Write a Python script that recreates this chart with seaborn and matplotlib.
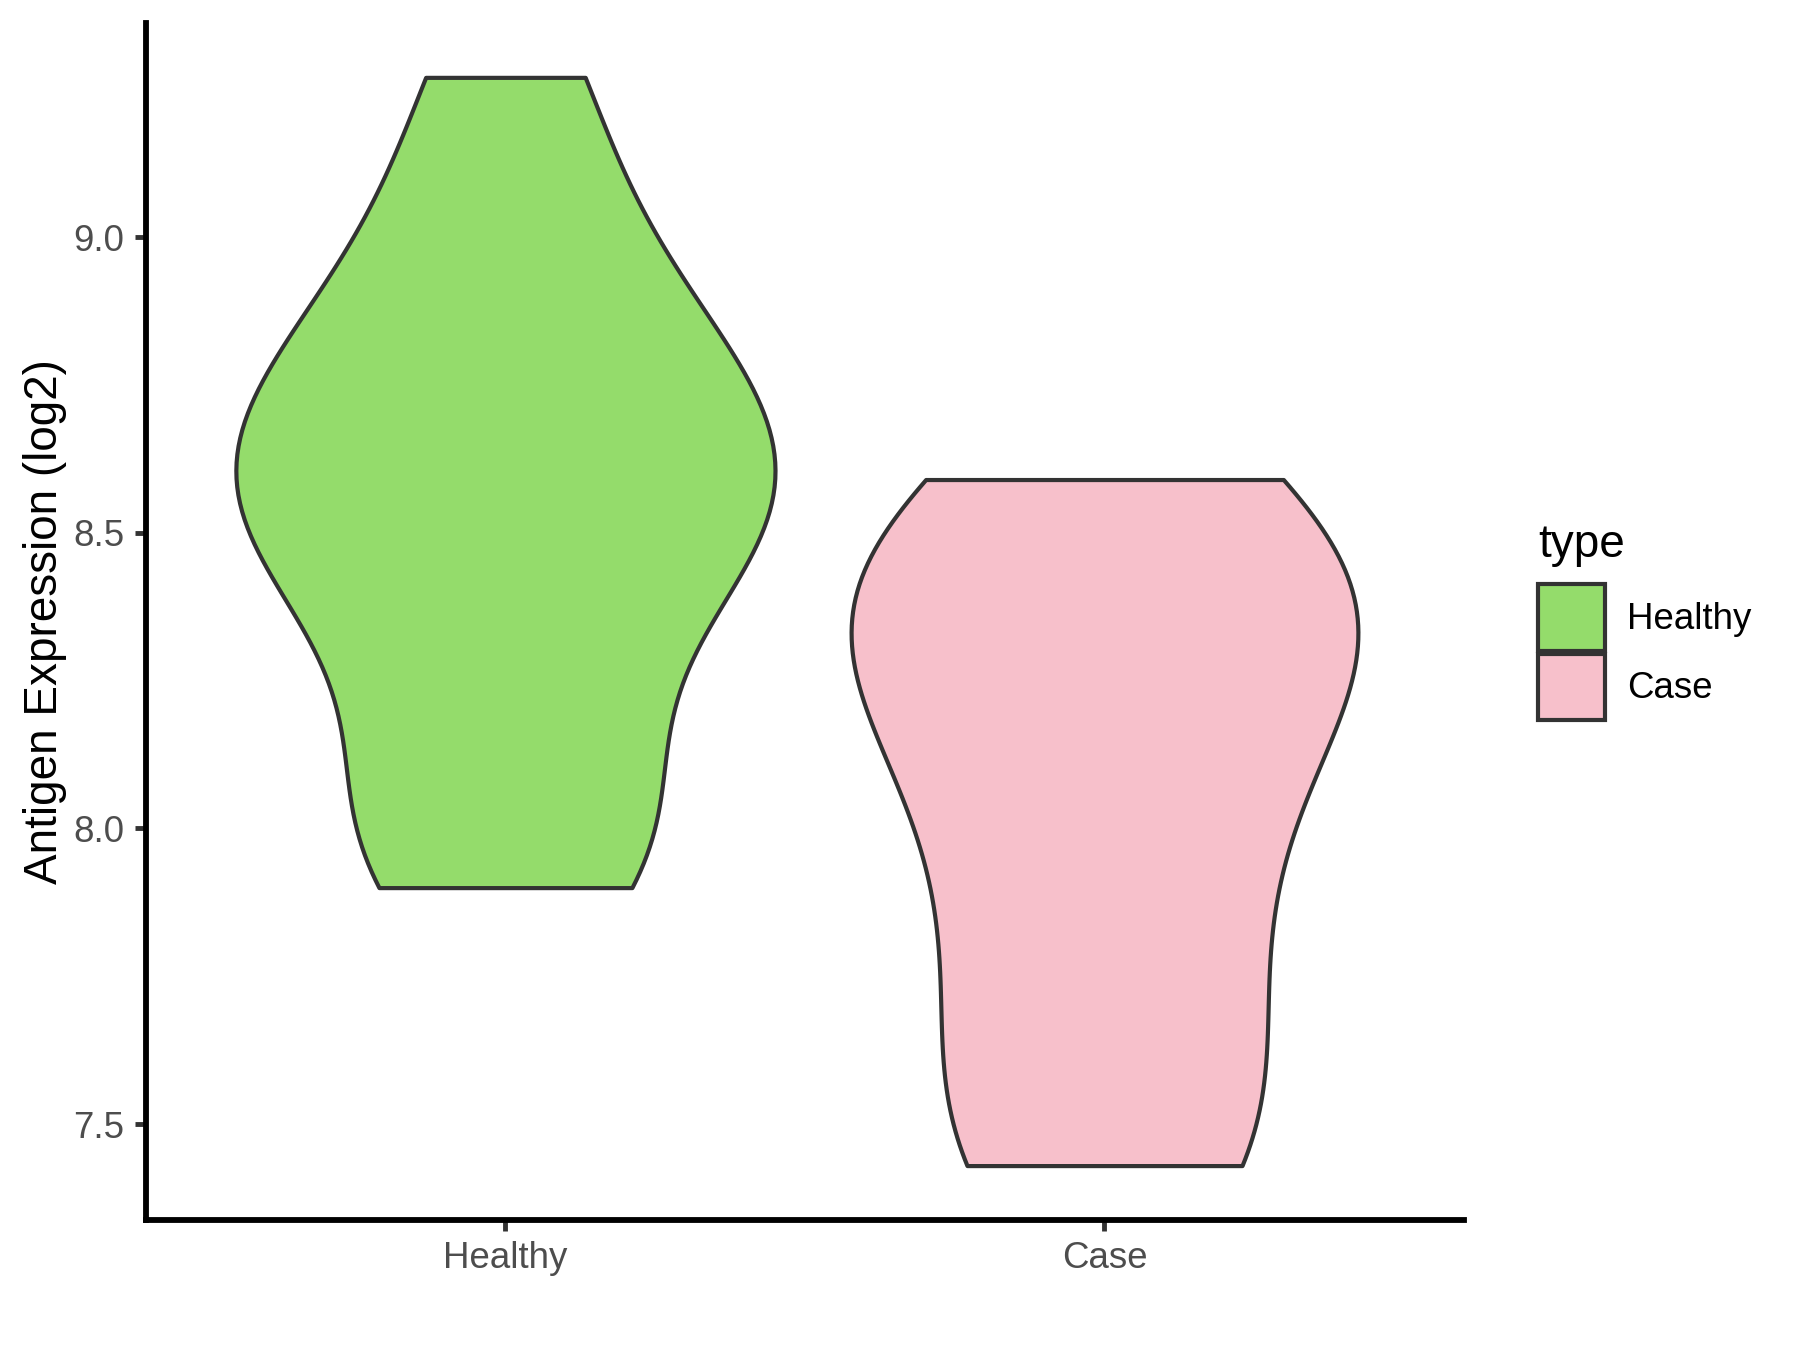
import pandas as pd
import numpy as np
import matplotlib
matplotlib.use('Agg')
import matplotlib.pyplot as plt
from matplotlib.patches import Patch
import seaborn as sns

# values (log2 expression)
healthy_vals = [7.90, 7.98, 8.12, 8.36, 8.45, 8.53, 8.60, 8.67, 8.75, 8.86, 9.02, 9.27]
case_vals = [7.43, 7.46, 7.70, 7.88, 8.08, 8.22, 8.32, 8.40, 8.48, 8.59]
groups = ['Healthy', 'Case']
colors = ['#94DC6B', '#F7C0CB']
bw_factors = [0.48, 0.54]    # kde bandwidth factor per group
widths = [0.9, 0.846]        # ggplot "area" scaling -> Case slightly narrower
y_ticks = [7.5, 8.0, 8.5, 9.0]

df = pd.DataFrame({
    'type': ['Healthy'] * len(healthy_vals) + ['Case'] * len(case_vals),
    'expr': healthy_vals + case_vals,
})

sns.set_theme(style='ticks')
plt.rcParams['font.family'] = ['Liberation Sans', 'DejaVu Sans']

fig = plt.figure(figsize=(18, 13.5), dpi=100)
fig.subplots_adjust(left=0.0811, right=0.8133, bottom=0.0963, top=0.983)
ax = fig.add_subplot(111)

for g, c, bw, w in zip(groups, colors, bw_factors, widths):
    sns.violinplot(
        data=df[df['type'] == g], x='type', y='expr', order=groups,
        color=c, saturation=1, cut=0, inner=None, bw_method=bw,
        density_norm='width', width=w, linewidth=3, linecolor='#333333',
        ax=ax
    )

# ggplot-like limits: 5% padding on y, 0.6 on the discrete x
lo, hi = df['expr'].min(), df['expr'].max()
pad = 0.05 * (hi - lo)
ax.set_ylim(lo - pad, hi + pad)
ax.set_xlim(-0.6, 1.6)
ax.set_yticks(y_ticks)
ax.set_yticklabels([f'{t:.1f}' for t in y_ticks])

ax.set_xlabel('')
ax.set_ylabel('Antigen Expression (log2)', fontsize=33, color='black', labelpad=4.8)
ax.tick_params(axis='both', labelsize=26.4, labelcolor='#4D4D4D', color='#333333',
               length=8.25, width=3.5)
ax.tick_params(axis='y', pad=7.2)
ax.tick_params(axis='x', pad=7)

sns.despine(ax=ax)
for side in ['left', 'bottom']:
    ax.spines[side].set_linewidth(4.2)
    ax.spines[side].set_color('black')

handles = [Patch(facecolor=c, edgecolor='#333333', linewidth=3, label=g)
           for g, c in zip(groups, colors)]
leg = ax.legend(handles=handles, title='type', loc='center left',
                bbox_to_anchor=(1.045, 0.5), frameon=False, fontsize=26.4,
                title_fontsize=33, handlelength=1.82, handleheight=2.42,
                labelspacing=0.08, handletextpad=0.6, borderaxespad=0,
                alignment='left')
leg.get_title().set_color('black')
for t in leg.get_texts():
    t.set_color('black')
leg._legend_box.sep = 12.5

fig.savefig('out.png', dpi=100)
